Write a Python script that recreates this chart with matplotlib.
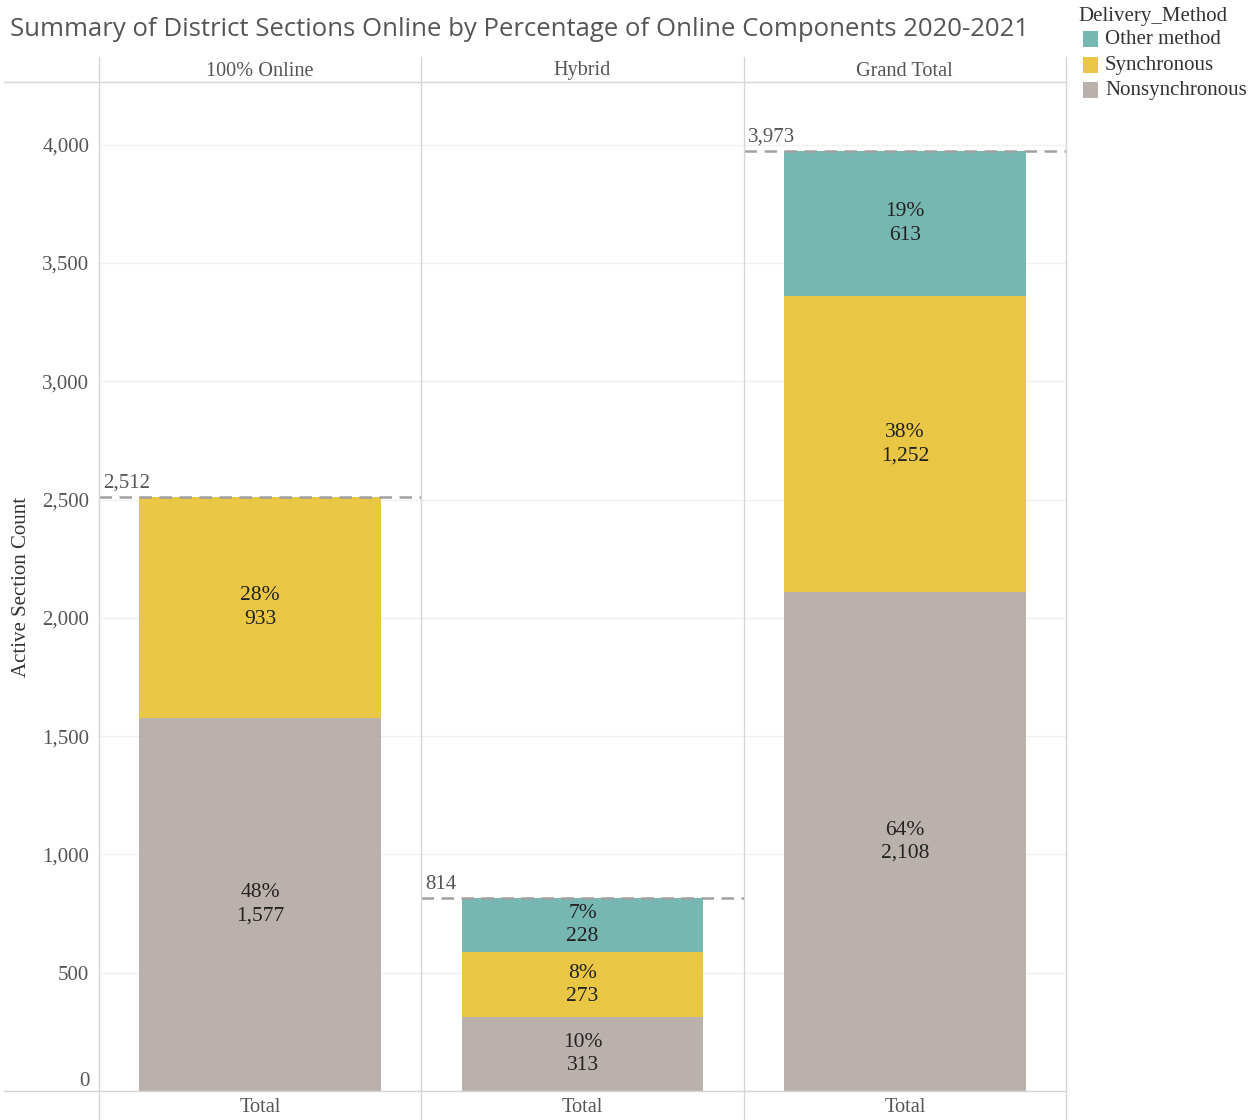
import numpy as np
import matplotlib
matplotlib.use("Agg")
import matplotlib.pyplot as plt
from matplotlib.patches import Rectangle
from matplotlib.lines import Line2D

# --- dados ---
panels = ["100% Online", "Hybrid", "Grand Total"]
series = ["Other method", "Synchronous", "Nonsynchronous"]
nonsync = [1577, 313, 2108]
sync = [933, 273, 1252]
other = [2, 228, 613]
totals = [2512, 814, 3973]
pct_nonsync = ["48%", "10%", "64%"]
pct_sync = ["28%", "8%", "38%"]
pct_other = ["", "7%", "19%"]
yticks = [0, 500, 1000, 1500, 2000, 2500, 3000, 3500, 4000]

col_other = "#76B7B2"
col_sync = "#EAC645"
col_nonsync = "#BAB0AC"

W, H = 1249, 1120
plt.rcParams['font.family'] = ['Liberation Serif', 'DejaVu Serif']
fig = plt.figure(figsize=(W / 100, H / 100), dpi=100)

def fx(px):
    return px / W

def fy(py):
    return 1 - py / H

left, top, bottom = 99, 82, 1091
pw = (1066 - 99) / 3
ymax = 4265
line_col = "#d6d6d6"

axes = []
for i, name in enumerate(panels):
    ax = fig.add_axes([fx(left + i * pw), fy(bottom), pw / W, (bottom - top) / H])
    ax.set_xlim(-0.5, 0.5)
    ax.set_ylim(0, ymax)
    for s in ax.spines.values():
        s.set_visible(False)
    ax.set_yticks(yticks)
    ax.grid(axis='y', color="#f0f0f0", lw=1)
    ax.set_axisbelow(True)
    ax.set_xticks([])
    ax.tick_params(axis='y', length=0, pad=7, labelsize=15, labelcolor="#555555")
    if i == 0:
        ax.set_yticklabels([f"{v:,}" for v in yticks])
        ax.set_ylabel("Active Section Count", fontsize=15, color="#333333", labelpad=8)
    else:
        ax.set_yticklabels([])

    # barras empilhadas
    b = 0.75
    ax.bar(0, nonsync[i], b, color=col_nonsync)
    ax.bar(0, sync[i], b, bottom=nonsync[i], color=col_sync)
    ax.bar(0, other[i], b, bottom=nonsync[i] + sync[i], color=col_other)

    # rótulos dos segmentos
    segs = [(nonsync[i], 0, pct_nonsync[i]),
            (sync[i], nonsync[i], pct_sync[i]),
            (other[i], nonsync[i] + sync[i], pct_other[i])]
    for val, base, pct in segs:
        if pct:
            ax.text(0, base + val / 2, f"{pct}\n{val:,}", ha='center', va='center',
                    fontsize=15.5, color="#222222", linespacing=1.3)

    # linha de referência do total
    ax.axhline(totals[i], color="#a0a0a0", lw=1.8, ls=(0, (5, 3)))
    ax.text(-0.488, totals[i] + 18, f"{totals[i]:,}", ha='left', va='bottom',
            fontsize=15, color="#555555")
    axes.append(ax)

# rótulo do zero fica acima da linha de base
fig.canvas.draw()
for t in axes[0].yaxis.get_major_ticks():
    if t.label1.get_text() == "0":
        t.label1.set_verticalalignment('bottom')

# cabeçalhos e rodapé
for i, name in enumerate(panels):
    cx = left + i * pw + pw / 2
    fig.text(fx(cx), fy(71), name, ha='center', va='center', fontsize=14.6, color="#555555")
    fig.text(fx(cx), fy(1108), "Total", ha='center', va='center', fontsize=14.6, color="#555555")

for k in range(4):
    x = left + k * pw
    fig.add_artist(Line2D([fx(x), fx(x)], [fy(57), fy(1120)], transform=fig.transFigure,
                          color=line_col, lw=1))
for y in (top, bottom):
    fig.add_artist(Line2D([fx(4), fx(1066)], [fy(y), fy(y)], transform=fig.transFigure,
                          color=line_col, lw=1))

# título
fig.text(fx(10), fy(30), "Summary of District Sections Online by Percentage of Online Components 2020-2021",
         ha='left', va='center', fontsize=18.55, color="#555555", family=['Open Sans', 'DejaVu Sans'])

# legenda
fig.text(fx(1078), fy(17), "Delivery_Method", ha='left', va='center', fontsize=15, color="#333333")
for j, (lab, c) in enumerate(zip(series, [col_other, col_sync, col_nonsync])):
    yc = 39 + j * 25.5
    fig.add_artist(Rectangle((fx(1083), fy(yc + 8)), 15 / W, 16 / H, transform=fig.transFigure,
                             color=c, lw=0))
    fig.text(fx(1105), fy(yc + 1), lab, ha='left', va='center', fontsize=15, color="#333333")

fig.savefig("out.png", dpi=100)
